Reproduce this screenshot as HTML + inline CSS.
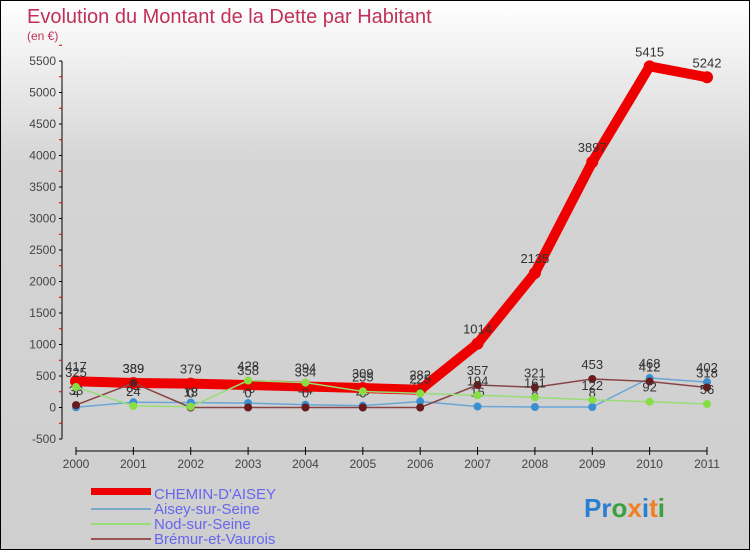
<!DOCTYPE html>
<html><head><meta charset="utf-8"><style>
body{margin:0}
#c{width:750px;height:550px;position:relative;box-sizing:border-box;border:1px solid #000;background:linear-gradient(#fff,#d4d4d4 30%,#cfcfcf);font-family:"Liberation Sans",sans-serif;overflow:hidden}
</style></head><body>
<div id="c">
<svg id="s" width="748" height="548" xmlns="http://www.w3.org/2000/svg" font-family="Liberation Sans, sans-serif">
<text x="26" y="22" font-size="20" fill="#c0305a">Evolution du Montant de la Dette par Habitant</text>
<text x="26" y="39" font-size="12" fill="#c0305a">(en €)</text>
<g id="ax"></g><g id="series"></g>
<g>
<rect x="90" y="487" width="60" height="7" fill="#e00"/>
<text x="153" y="498" font-size="15" fill="#6666ee">CHEMIN-D'AISEY</text>
<line x1="90" y1="508" x2="150" y2="508" stroke="#7aa8c8" stroke-width="2"/>
<text x="153" y="513" font-size="15" fill="#6666ee">Aisey-sur-Seine</text>
<line x1="90" y1="523" x2="150" y2="523" stroke="#99dd77" stroke-width="2"/>
<text x="153" y="528" font-size="15" fill="#6666ee">Nod-sur-Seine</text>
<line x1="90" y1="538" x2="150" y2="538" stroke="#995555" stroke-width="2"/>
<text x="153" y="543" font-size="15" fill="#6666ee">Brémur-et-Vaurois</text>
</g>
<text x="583" y="516" font-size="26" font-weight="bold"><tspan fill="#2a7fd0">Pr</tspan><tspan fill="#3aa040">o</tspan><tspan fill="#f08020">x</tspan><tspan fill="#2a7fd0">i</tspan><tspan fill="#f08020">t</tspan><tspan fill="#3aa040">i</tspan></text>
</svg></div>
<script>
const years=[2000,2001,2002,2003,2004,2005,2006,2007,2008,2009,2010,2011];
const chemin=[417,389,379,358,334,309,282,1014,2135,3897,5415,5242];
const aisey=[4,84,78,70,44,29,96,16,8,8,468,402];
const nod=[325,24,13,428,394,255,225,194,161,122,92,56];
const bremur=[38,389,0,0,0,0,0,357,321,453,412,318];
const yTicks=[-500,0,500,1000,1500,2000,2500,3000,3500,4000,4500,5000,5500];
const NS="http://www.w3.org/2000/svg";
const xs=i=>75+i*(706-75)/11;
const ys=v=>60+(5500-v)*31.5/500;
function mk(t,a,p){const e=document.createElementNS(NS,t);for(const k in a)e.setAttribute(k,a[k]);p.appendChild(e);return e;}
const ax=document.getElementById('ax');
const a1=mk('line',{x1:61,y1:ys(5500),x2:61,y2:ys(-500),stroke:'#000'},ax);


yTicks.forEach(v=>{
 mk('line',{x1:58,y1:ys(v),x2:61,y2:ys(v),stroke:'#000'},ax);
 mk('line',{x1:58,y1:ys(v+250),x2:61,y2:ys(v+250),stroke:'#d00'},ax);
 const t=mk('text',{x:55,y:ys(v)+4,'text-anchor':'end','font-size':12,fill:'#444'},ax);t.textContent=v;
 
 
});
const a2=mk('line',{x1:75,y1:450,x2:706,y2:450,stroke:'#000'},ax);


years.forEach((y,i)=>{
 mk('line',{x1:xs(i),y1:446,x2:xs(i),y2:454,stroke:'#000'},ax);
 const t=mk('text',{x:xs(i),y:467,'text-anchor':'middle','font-size':12,fill:'#444'},ax);t.textContent=y;
 
 
});
const sg=document.getElementById('series');
function draw(data,col,w,r,name,lab){
 const g=mk('g',{},sg);
 
 
 mk('polyline',{points:data.map((v,i)=>xs(i)+','+ys(v)).join(' '),fill:'none',stroke:col,'stroke-width':w,'stroke-linejoin':'round'},g);
 data.forEach((v,i)=>{
  const c=mk('circle',{cx:xs(i),cy:ys(v),r:r,fill:lab},g);
  
  
  const t=mk('text',{x:xs(i),y:ys(v)-10,'text-anchor':'middle','font-size':13,fill:'#333'},g);t.textContent=v;
  
  
 });
}
draw(aisey,'#6aa6d6',1.5,4,'series-aisey','#3a8fd0');
draw(chemin,'#ee0000',10,6,'series-chemin','#ee0000');
draw(bremur,'#884444',1.5,4,'series-bremur','#6a1a1a');
draw(nod,'#99dd77',1.5,4,'series-nod','#88dd44');
</script>
</body></html>
